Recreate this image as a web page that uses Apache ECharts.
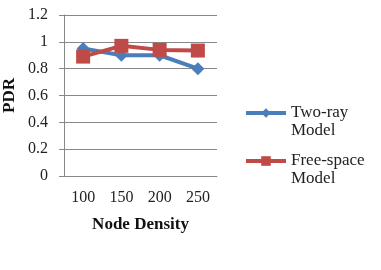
<!DOCTYPE html>
<html>
<head>
<meta charset="utf-8">
<script src="https://cdn.jsdelivr.net/npm/echarts@6/dist/echarts.min.js"></script>
<style>
  html, body { margin: 0; padding: 0; background: #fff; }
  #chart { width: 381px; height: 270px; }
</style>
</head>
<body>
<div id="chart"></div>
<script>
const categories = ['100', '150', '200', '250']
const twoRay = [0.95, 0.9, 0.9, 0.8]
const freeSpace = [0.89, 0.97, 0.94, 0.935]
const seriesNames = ['Two-ray\nModel', 'Free-space\nModel']

const font = 'Liberation Serif'
const chart = echarts.init(document.getElementById('chart'))

// one legend per series; a blank first line keeps the icon level with the first word
function legendFor(name, top) {
  return {
    orient: 'vertical',
    left: 244,
    top: top,
    padding: 0,
    itemWidth: 40,
    itemHeight: 12,
    lineStyle: { width: 4 },
    itemStyle: { borderWidth: 0 },
    formatter: n => ' \n' + n,
    textStyle: { fontFamily: font, fontSize: 17, color: '#222', lineHeight: 18 },
    data: [name]
  }
}

chart.setOption({
  backgroundColor: '#fff',
  animation: false,
  textStyle: { fontFamily: font },
  grid: { left: 62, top: 15, width: 155, height: 161, containLabel: false },
  legend: [legendFor(seriesNames[0], 86), legendFor(seriesNames[1], 134)],
  xAxis: {
    type: 'category',
    data: categories,
    boundaryGap: true,
    name: 'Node Density',
    nameLocation: 'middle',
    nameGap: 40,
    nameTextStyle: { fontFamily: font, fontSize: 17, fontWeight: 'bold', color: '#111' },
    axisLine: { lineStyle: { color: '#888', width: 1 } },
    axisTick: { show: false },
    axisLabel: { fontFamily: font, fontSize: 16, color: '#222', margin: 14 }
  },
  yAxis: {
    type: 'value',
    min: 0,
    max: 1.2,
    interval: 0.2,
    name: 'PDR',
    nameLocation: 'middle',
    nameGap: 46,
    nameRotate: 90,
    nameTextStyle: { fontFamily: font, fontSize: 17, fontWeight: 'bold', color: '#111' },
    axisLine: { show: true, lineStyle: { color: '#888', width: 1 } },
    axisTick: { show: true, length: 5, lineStyle: { color: '#888' } },
    splitLine: { lineStyle: { color: '#888', width: 1 } },
    axisLabel: {
      fontFamily: font, fontSize: 16, color: '#222', margin: 16,
      formatter: v => String(Math.round(v * 10) / 10)
    }
  },
  series: [
    {
      name: seriesNames[0],
      type: 'line',
      data: twoRay,
      symbol: 'diamond',
      symbolSize: 13,
      lineStyle: { color: '#4a7ebb', width: 4 },
      itemStyle: { color: '#4a7ebb' }
    },
    {
      name: seriesNames[1],
      type: 'line',
      data: freeSpace,
      symbol: 'rect',
      symbolSize: 14,
      lineStyle: { color: '#be4b48', width: 4 },
      itemStyle: { color: '#be4b48' }
    }
  ]
})
</script>
</body>
</html>
